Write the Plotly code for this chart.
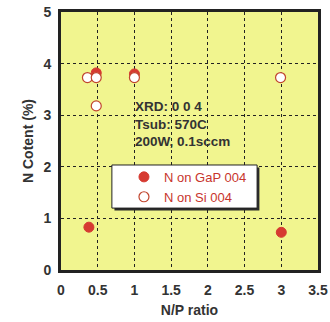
import plotly.graph_objects as go

# N content vs N/P ratio
gap_x = [0.38, 0.48, 1.0, 3.0]
gap_y = [0.83, 3.82, 3.80, 0.73]
si_x = [0.36, 0.48, 0.48, 1.0, 2.99]
si_y = [3.73, 3.73, 3.18, 3.73, 3.73]

x_ticks = [0, 0.5, 1, 1.5, 2, 2.5, 3, 3.5]
y_ticks = [0, 1, 2, 3, 4, 5]

red = "#d63a31"
font_family = "Liberation Sans, Arial, sans-serif"

fig = go.Figure()
fig.add_trace(go.Scatter(
    x=gap_x, y=gap_y, mode="markers", name="N on GaP 004",
    marker=dict(size=10, color=red, line=dict(color=red, width=1)),
))
fig.add_trace(go.Scatter(
    x=si_x, y=si_y, mode="markers", name="N on Si 004",
    marker=dict(size=10, color="white", line=dict(color="#c0452e", width=1.2)),
))

fig.add_annotation(
    x=0.98, y=3.36, xref="x", yref="y", xanchor="left", yanchor="top",
    text="<b>XRD: 0 0 4<br>Tsub: 570C<br>200W, 0.1sccm</b>",
    showarrow=False, align="left",
    font=dict(family=font_family, size=13.5, color="#333333"),
)

# legend frame with drop shadow
fig.add_shape(type="rect", xref="paper", yref="paper",
              x0=0.208, x1=0.772, y0=0.231, y1=0.397,
              fillcolor="#2a2a2a", line=dict(width=0), layer="above")
fig.add_shape(type="rect", xref="paper", yref="paper",
              x0=0.198, x1=0.763, y0=0.240, y1=0.407,
              fillcolor="white", line=dict(color="#222222", width=1), layer="above")

axis_common = dict(
    showgrid=True, gridcolor="#222222", griddash="dot", gridwidth=1,
    zeroline=False, showline=True, linecolor="#222222", linewidth=3, mirror=True,
    ticks="", automargin=False,
    tickfont=dict(family=font_family, size=14, color="#333333"),
)

fig.update_layout(
    width=330, height=322,
    margin=dict(l=61, r=12, t=12, b=52),
    paper_bgcolor="white", plot_bgcolor="#f1f58f",
    showlegend=True,
    legend=dict(
        x=0.245, y=0.322, xanchor="left", yanchor="middle",
        bgcolor="rgba(0,0,0,0)", borderwidth=0,
        font=dict(family=font_family, size=13, color="#c8352d"),
        itemwidth=30, tracegroupgap=0,
    ),
    xaxis=dict(range=[0, 3.5], tickvals=x_ticks, ticktext=[f"<b>{v}</b>" for v in x_ticks],
               ticklabelstandoff=5,
               title=dict(text="<b>N/P ratio</b>", standoff=9,
                          font=dict(family=font_family, size=14, color="#333333")),
               **axis_common),
    yaxis=dict(range=[0, 5], tickvals=y_ticks, ticktext=[f"<b>{v}</b>" for v in y_ticks],
               ticklabelstandoff=4,
               title=dict(text="<b>N Cotent (%)</b>", standoff=7,
                          font=dict(family=font_family, size=14, color="#333333")),
               **axis_common),
    font=dict(family=font_family),
)

fig.write_html("out.html")
